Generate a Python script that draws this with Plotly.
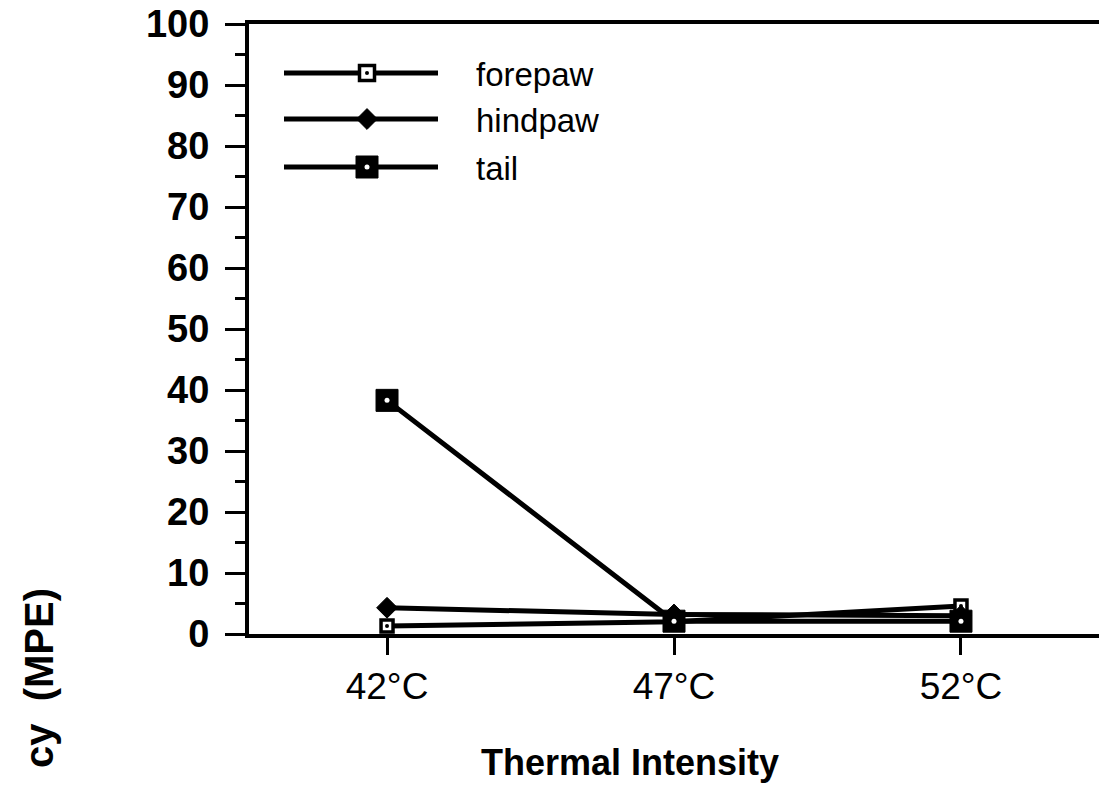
import plotly.graph_objects as go

# Paw-withdrawal data at three thermal intensities
temps = ["42°C", "47°C", "52°C"]
forepaw = [1.3, 2.0, 4.6]
hindpaw = [4.3, 3.2, 3.0]
tail = [38.3, 2.1, 2.1]
y_ticks = [0, 10, 20, 30, 40, 50, 60, 70, 80, 90, 100]

FONT = "Liberation Sans, Arial, Helvetica, sans-serif"
W, H = 1099, 788
ML, MR, MT, MB = 249, 0, 24, 154
PW, PH = W - ML - MR, H - MT - MB


def px_x(p):
    return (p - ML) / PW


def px_y(p):
    return (H - MB - p) / PH


LINE = dict(color="black", width=5)
styles = {
    "forepaw": dict(marker=dict(symbol="square", size=12, color="white",
                                line=dict(color="black", width=3.5)),
                    dot=dict(symbol="circle", size=4, color="black")),
    "hindpaw": dict(marker=dict(symbol="diamond", size=16, color="black",
                                line=dict(color="black", width=1)),
                    dot=None),
    "tail": dict(marker=dict(symbol="square", size=22, color="black",
                             line=dict(color="black", width=1)),
                 dot=dict(symbol="circle", size=5, color="white")),
}
series = [("forepaw", forepaw), ("hindpaw", hindpaw), ("tail", tail)]

fig = go.Figure()
for name, vals in series:
    st = styles[name]
    fig.add_trace(go.Scatter(x=temps, y=vals, mode="lines+markers", name=name,
                             line=LINE, marker=st["marker"], cliponaxis=False,
                             showlegend=False))
    if st["dot"]:
        fig.add_trace(go.Scatter(x=temps, y=vals, mode="markers", marker=st["dot"],
                                 cliponaxis=False, showlegend=False, hoverinfo="skip"))

# Hand-drawn key with long line samples
key_rows = [px_y(73), px_y(119), px_y(167)]
key_x0, key_xm, key_x1 = px_x(284), px_x(367), px_x(438)
key_text_x = px_x(474)
annotations = []
for (name, _), ry in zip(series, key_rows):
    st = styles[name]
    fig.add_trace(go.Scatter(x=[key_x0, key_x1], y=[ry, ry], mode="lines", line=LINE,
                             xaxis="x2", yaxis="y2", showlegend=False, hoverinfo="skip"))
    mk = dict(st["marker"])
    if name == "forepaw":
        mk = dict(mk, size=15)
    fig.add_trace(go.Scatter(x=[key_xm], y=[ry], mode="markers", marker=mk,
                             xaxis="x2", yaxis="y2", showlegend=False, hoverinfo="skip"))
    if st["dot"]:
        fig.add_trace(go.Scatter(x=[key_xm], y=[ry], mode="markers", marker=st["dot"],
                                 xaxis="x2", yaxis="y2", showlegend=False, hoverinfo="skip"))
    annotations.append(dict(text=name, x=key_text_x, y=ry - 2 / PH, xref="paper", yref="paper",
                            xanchor="left", yanchor="middle", showarrow=False,
                            font=dict(family=FONT, size=33, color="black")))

annotations.append(dict(text="<b>Thermal Intensity</b>", x=px_x(630), y=px_y(762),
                        xref="paper", yref="paper", xanchor="center", yanchor="middle",
                        showarrow=False, font=dict(family=FONT, size=36, color="black")))
annotations.append(dict(text="<b>cy  (MPE)</b>", x=px_x(39), y=px_y(678), textangle=-90,
                        xref="paper", yref="paper", xanchor="center", yanchor="middle",
                        showarrow=False, font=dict(family=FONT, size=40, color="black")))

fig.update_layout(
    width=W, height=H,
    margin=dict(l=ML, r=MR, t=MT, b=MB, pad=0),
    paper_bgcolor="white", plot_bgcolor="white",
    showlegend=False,
    annotations=annotations,
    xaxis=dict(type="category", range=[-0.481, 2.481], showgrid=False, zeroline=False,
               showline=True, linecolor="black", linewidth=4, mirror=True,
               ticks="outside", ticklen=17, tickwidth=3, tickcolor="black",
               tickfont=dict(family=FONT, size=37, color="black")),
    yaxis=dict(range=[0, 100], tickvals=y_ticks, showgrid=False, zeroline=False,
               showline=True, linecolor="black", linewidth=4,
               ticks="outside", ticklen=20, tickwidth=3, tickcolor="black",
               ticklabelstandoff=8,
               minor=dict(dtick=5, ticks="outside", ticklen=10, tickwidth=3,
                          tickcolor="black", showgrid=False),
               tickfont=dict(family=FONT, size=38, color="black", weight="bold")),
    xaxis2=dict(range=[0, 1], overlaying="x", visible=False, fixedrange=True),
    yaxis2=dict(range=[0, 1], overlaying="y", visible=False, fixedrange=True),
)

fig.write_html("out.html")
